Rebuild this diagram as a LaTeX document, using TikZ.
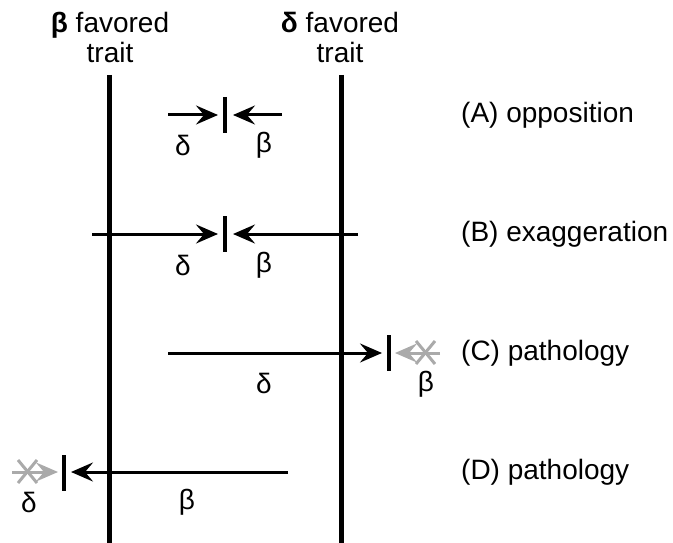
\documentclass[tikz,border=0pt]{standalone}
\usepackage{fontspec}
\setmainfont{Liberation Sans}
\usetikzlibrary{arrows.meta}
\definecolor{lgray}{HTML}{AAAAAA}
\begin{document}
\begin{tikzpicture}[x=1pt,y=-1pt,
  trait/.style={line width=5pt},
  arr/.style={line width=3pt,-{Stealth[length=22pt,width=19pt,inset=8pt]}},
  garr/.style={arr,draw=lgray},
  cross/.style={line width=3pt,draw=lgray},
  tickmark/.style={line width=4pt},
  lbl/.style={font=\fontsize{28}{32}\selectfont,inner sep=0pt},
  hdr/.style={font=\fontsize{28}{30}\selectfont,inner sep=0pt,align=center},
]
\useasboundingbox (0,0) rectangle (673,543);

% headers
\node[hdr] (hb) at (110,37) {\textbf{β} favored\\trait};
\node[hdr] (hd) at (340,37) {\textbf{δ} favored\\trait};

% trait lines
\coordinate (bt) at (109,75);  \coordinate (bb) at (109,543);
\coordinate (dt) at (341,75);  \coordinate (db) at (341,543);
\draw[trait] (bt) -- (bb);
\draw[trait] (dt) -- (db);

% (A)
\coordinate (a1) at (168,115); \coordinate (a2) at (218,115);
\coordinate (a3) at (282,115); \coordinate (a4) at (233,115);
\coordinate (at1) at (225,97); \coordinate (at2) at (225,133);
\draw[tickmark] (at1) -- (at2);
\draw[arr] (a1) -- (a2);
\draw[arr] (a3) -- (a4);
\node[lbl] (ad) at (183,145) {δ};
\node[lbl] (ab) at (264,145) {β};
\node[lbl,anchor=west] (ta) at (461,115) {(A) opposition};

% (B)
\coordinate (b1) at (92,234); \coordinate (b2) at (218,234);
\coordinate (b3) at (358,234); \coordinate (b4) at (233,234);
\coordinate (bt1) at (225,216); \coordinate (bt2) at (225,252);
\draw[tickmark] (bt1) -- (bt2);
\draw[arr] (b1) -- (b2);
\draw[arr] (b3) -- (b4);
\node[lbl] (bd) at (183,265) {δ};
\node[lbl] (bbeta) at (264,265) {β};
\node[lbl,anchor=west] (tb) at (461,234) {(B) exaggeration};

% (C)
\coordinate (c1) at (168,353); \coordinate (c2) at (382,353);
\coordinate (c3) at (440,353); \coordinate (c4) at (395,353);
\coordinate (ct1) at (389,335); \coordinate (ct2) at (389,371);
\draw[tickmark] (ct1) -- (ct2);
\draw[arr] (c1) -- (c2);
\draw[garr] (c3) -- (c4);
\coordinate (cx1) at (416,341); \coordinate (cx2) at (435,364);
\coordinate (cx3) at (416,364); \coordinate (cx4) at (435,341);
\draw[cross] (cx1) -- (cx2);
\draw[cross] (cx3) -- (cx4);
\node[lbl] (cd) at (264,383) {δ};
\node[lbl] (cb) at (426,384) {β};
\node[lbl,anchor=west] (tc) at (461,353) {(C) pathology};

% (D)
\coordinate (d1) at (288,472); \coordinate (d2) at (71,472);
\coordinate (d3) at (12,472); \coordinate (d4) at (58,472);
\coordinate (dt1) at (64,455); \coordinate (dt2) at (64,491);
\draw[tickmark] (dt1) -- (dt2);
\draw[arr] (d1) -- (d2);
\draw[garr] (d3) -- (d4);
\coordinate (dx1) at (18,460); \coordinate (dx2) at (37,483);
\coordinate (dx3) at (18,483); \coordinate (dx4) at (37,460);
\draw[cross] (dx1) -- (dx2);
\draw[cross] (dx3) -- (dx4);
\node[lbl] (dd) at (29,502) {δ};
\node[lbl] (db2) at (187,502) {β};
\node[lbl,anchor=west] (td) at (461,472) {(D) pathology};
\end{tikzpicture}
\end{document}
